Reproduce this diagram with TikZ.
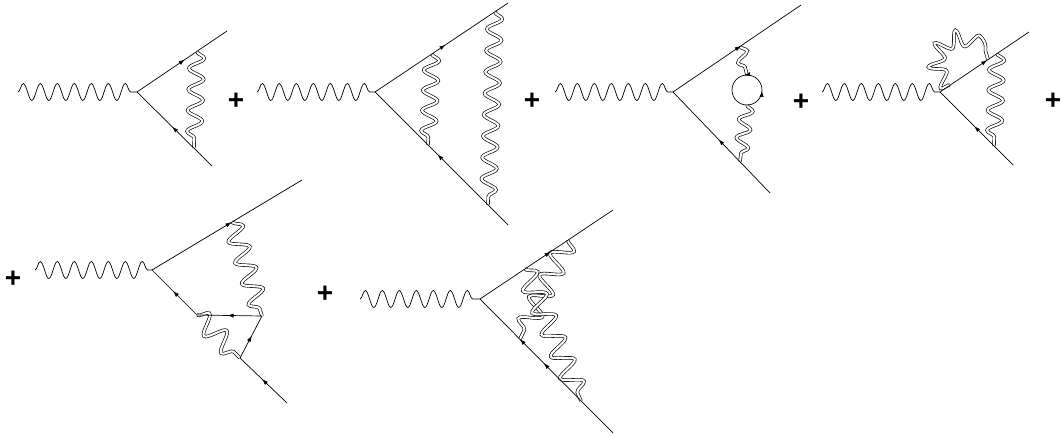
\documentclass[tikz,border=0pt]{standalone}
\usepackage{fontspec}
\setmainfont{Liberation Sans}
\usetikzlibrary{decorations.pathmorphing,decorations.markings,arrows.meta}
\tikzset{
  fer/.style={postaction={decorate,decoration={markings,mark=at position #1 with {\arrow{Latex[length=6pt,width=4.2pt]}}}}},
  fer/.default=0.53,
  fertwo/.style 2 args={postaction={decorate,decoration={markings,
      mark=at position #1 with {\arrow{Latex[length=6pt,width=4.2pt]}},
      mark=at position #2 with {\arrow{Latex[length=6pt,width=4.2pt]}}}}},
  photon/.style={decorate,decoration={snake,amplitude=8.5pt,segment length=17pt}},
  wz/.style={draw=black, double=white, double distance=2.1pt, line width=0.65pt,
    decorate, decoration={snake,amplitude=7.5pt,segment length=21pt}},
  plus/.style={font=\fontsize{28}{28}\selectfont\bfseries, inner sep=0pt},
}
\begin{document}
\begin{tikzpicture}[x=1pt,y=1pt,line width=0.7pt]
\useasboundingbox (0,0) rectangle (1062,-436);
% ---------- coordinates ----------
% diagram 1
\coordinate (p1) at (18,-92);   \coordinate (v1) at (137,-92);
\coordinate (t1) at (227,-31);  \coordinate (b1) at (212,-166);
\coordinate (w1a) at (197,-51.5); \coordinate (w1b) at (194,-148);
% diagram 2
\coordinate (p2) at (257,-92);  \coordinate (v2) at (375,-92);
\coordinate (t2) at (508,-3);   \coordinate (b2) at (508,-225);
\coordinate (w2a) at (432,-54); \coordinate (w2b) at (428,-145);
\coordinate (w2c) at (495,-12); \coordinate (w2d) at (488,-205);
% diagram 3
\coordinate (p3) at (555,-92);  \coordinate (v3) at (673,-92);
\coordinate (t3) at (801,-5);   \coordinate (b3) at (770,-193);
\coordinate (w3a) at (740,-46.5); \coordinate (w3b) at (747,-75);
\coordinate (w3c) at (747,-105);  \coordinate (w3d) at (740,-161.5);
% diagram 4
\coordinate (p4) at (822,-92);  \coordinate (v4) at (940,-92);
\coordinate (t4) at (1029,-32); \coordinate (b4) at (1013,-165);
\coordinate (w4a) at (997,-53.6); \coordinate (w4b) at (994,-146);
\coordinate (l4a) at (950,-85.3);
% diagram 5
\coordinate (p5) at (35,-270);  \coordinate (v5) at (152,-270);
\coordinate (t5) at (302,-180); \coordinate (a5) at (232,-222);
\coordinate (l5) at (197,-315); \coordinate (r5) at (262,-316);
\coordinate (d5) at (240,-358); \coordinate (e5) at (287,-403);
% diagram 6
\coordinate (p6) at (360,-299); \coordinate (v6) at (480,-299);
\coordinate (t6) at (613,-210); \coordinate (b6) at (613,-433);
\coordinate (a61) at (568,-240); \coordinate (b61) at (520,-339);
\coordinate (a62) at (525,-269); \coordinate (b62) at (581,-401);

% ---------- plus signs ----------
\node[plus] (pl1) at (236,-101) {+};
\node[plus] (pl2) at (532,-101) {+};
\node[plus] (pl3) at (801,-102) {+};
\node[plus] (pl4) at (1053,-101) {+};
\node[plus] (pl5) at (13,-279) {+};
\node[plus] (pl6) at (325,-294) {+};

% ---------- diagram 1 ----------
\draw[photon] (p1) -- (v1);
\draw[wz, decoration={segment length=21pt}] (w1a) -- (w1b);
\draw[fer] (v1) -- (t1);
\draw[fer] (b1) -- (v1);

% ---------- diagram 2 ----------
\draw[photon] (p2) -- (v2);
\draw[wz, decoration={segment length=20.2pt}] (w2a) -- (w2b);
\draw[wz, decoration={segment length=21.4pt}] (w2c) -- (w2d);
\draw[fer] (v2) -- (t2);
\draw[fer] (b2) -- (v2);

% ---------- diagram 3 ----------
\draw[photon] (p3) -- (v3);
\draw[wz, decoration={segment length=19pt, amplitude=6pt}] (w3a) -- (w3b);
\draw[wz, decoration={segment length=18.5pt, amplitude=6.5pt}] (w3c) -- (w3d);
\draw[fertwo={0.24}{0.53}] (w3c) arc[start angle=-90, end angle=270, radius=15];
\draw[fer] (v3) -- (t3);
\draw[fer] (b3) -- (v3);

% ---------- diagram 4 ----------
\draw[photon] (p4) -- (v4);
\draw[wz, decoration={segment length=18.8pt, amplitude=8pt}] (l4a) arc[start angle=234.4, end angle=14.4, radius=24.5];
\draw[wz, decoration={segment length=20.2pt}] (w4a) -- (w4b);
\draw[fer] (v4) -- (t4);
\draw[fer] (b4) -- (v4);

% ---------- diagram 5 ----------
\draw[photon] (p5) -- (v5);
\draw[wz, decoration={segment length=22pt, amplitude=9.5pt}] (a5) -- (r5);
\draw[wz, decoration={segment length=24.4pt, amplitude=10pt}] (l5) -- (d5);
\draw[fer] (v5) -- (t5);
\draw[fer] (r5) -- (l5);
\draw[fer] (l5) -- (v5);
\draw[fer] (d5) -- (r5);
\draw[fer] (e5) -- (d5);

% ---------- diagram 6 ----------
\draw[photon] (p6) -- (v6);
\draw[wz, decoration={segment length=24.2pt, amplitude=10.5pt}] (a61) -- (b61);
\draw[wz, decoration={segment length=23.8pt, amplitude=10.5pt}] (a62) -- (b62);
\draw[fer] (v6) -- (t6);
\draw[fertwo={0.52}{0.7}] (b6) -- (v6);
\end{tikzpicture}
\end{document}
